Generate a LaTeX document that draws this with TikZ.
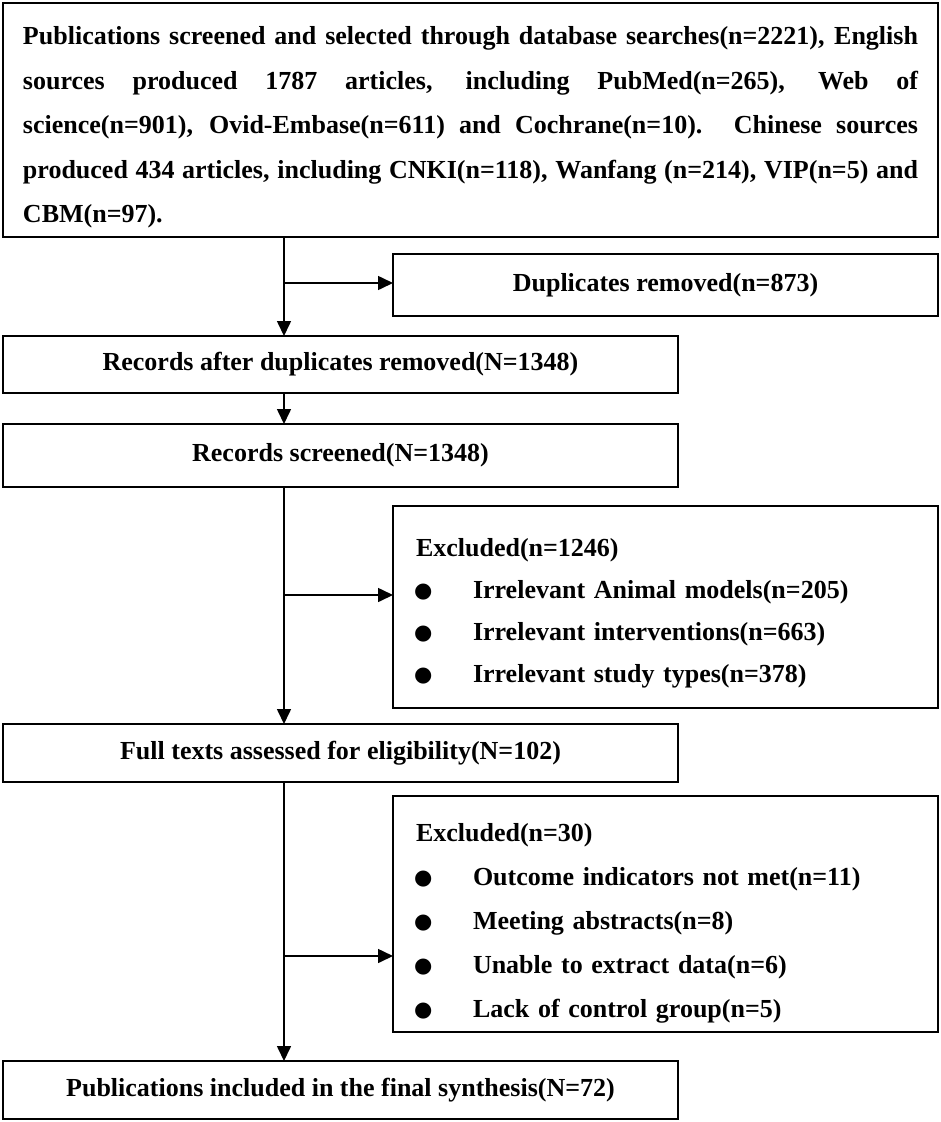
\documentclass[tikz,border=0pt]{standalone}
\usepackage{fontspec}
\setmainfont{Liberation Serif}
\newfontfamily\dotfont{DejaVu Sans}
\usetikzlibrary{arrows.meta,positioning,calc}

\newcommand{\itm}{\makebox[57pt][l]{\hspace{-2pt}\raisebox{1pt}{\dotfont\fontsize{21}{21}\selectfont ●}}}

\begin{document}
\begin{tikzpicture}[x=1pt, y=-1pt,
        box/.style={draw, line width=1.6pt, inner sep=0pt, outer sep=0pt, anchor=north west,
          font=\fontsize{26}{30}\selectfont\bfseries},
        exbox/.style={box, align=left, text width=499pt, minimum width=545pt},
        arr/.style={line width=1.6pt, -{Triangle[length=15pt, width=14pt]}}
        ]
        \useasboundingbox (0,0) rectangle (941,1122);
        \node[box, align=justify, text width=895pt, minimum width=935pt, minimum height=234pt,
          font=\fontsize{26}{44.5}\selectfont\bfseries] (pub) at (3,3) {\rule{0pt}{33pt}Publications screened and selected through database searches(n=2221), English\linebreak
          sources produced 1787 articles, including PubMed(n=265), Web of\linebreak
          science(n=901), Ovid-Embase(n=611) and Cochrane(n=10). Chinese sources\linebreak
          produced 434 articles, including CNKI(n=118), Wanfang (n=214), VIP(n=5) and\linebreak
          CBM(n=97).};
        \node[box, minimum width=545pt, minimum height=62pt] (dup) at (393,254) {Duplicates removed(n=873)};
        \node[box, minimum width=675pt, minimum height=57pt, below=99pt of pub.south west, anchor=north west] (rec) {Records after duplicates removed(N=1348)};
        \node[box, minimum width=675pt, minimum height=63pt, below=31pt of rec.south west, anchor=north west] (scr) {Records screened(N=1348)};
        \node[exbox, minimum height=202pt, font=\fontsize{26}{42}\selectfont\bfseries] (ex1) at (393,506) {\rule{0pt}{31pt}Excluded(n=1246)\\
          \itm Irrelevant Animal models(n=205)\\
          \itm Irrelevant interventions(n=663)\\
          \itm Irrelevant study types(n=378)};
        \node[box, minimum width=675pt, minimum height=58pt, below=237pt of scr.south west, anchor=north west] (full) {Full texts assessed for eligibility(N=102)};
        \node[exbox, minimum height=236pt, font=\fontsize{26}{44}\selectfont\bfseries] (ex2) at (393,796) {\rule{0pt}{37pt}Excluded(n=30)\\
          \itm Outcome indicators not met(n=11)\\
          \itm Meeting abstracts(n=8)\\
          \itm Unable to extract data(n=6)\\
          \itm Lack of control group(n=5)};
        \node[box, minimum width=675pt, minimum height=58pt, below=279pt of full.south west, anchor=north west] (incl) {Publications included in the final synthesis(N=72)};
        % trunk and branch points
        \coordinate (t0) at (284,283);
        \coordinate (t1) at (284,595);
        \coordinate (t2) at (284,956);
        \draw[arr] (pub.south -| t0) -- (rec.north -| t0);
        \draw[arr] (t0) -- (t0 -| dup.west);
        \draw[arr] (rec.south -| t0) -- (scr.north -| t0);
        \draw[arr] (scr.south -| t1) -- (full.north -| t1);
        \draw[arr] (t1) -- (t1 -| ex1.west);
        \draw[arr] (full.south -| t2) -- (incl.north -| t2);
        \draw[arr] (t2) -- (t2 -| ex2.west);
\end{tikzpicture}
\end{document}
